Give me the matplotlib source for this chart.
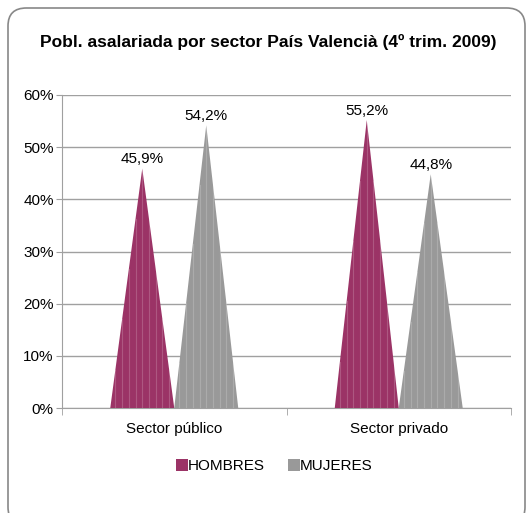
import matplotlib.pyplot as plt
import numpy as np
from matplotlib.patches import FancyBboxPatch
from matplotlib.lines import Line2D

# datos
categorias = ['Sector público', 'Sector privado']
hombres = [45.9, 55.2]
mujeres = [54.2, 44.8]
series = ['HOMBRES', 'MUJERES']
colores = ['#9b3366', '#999999']
titulo = 'Pobl. asalariada por sector País Valencià (4º trim. 2009)'

plt.rcParams['font.family'] = ['Liberation Sans', 'DejaVu Sans']

fig = plt.figure(figsize=(5.26, 5.13), dpi=100)
W, H = 526, 513

# marco redondeado
marco = FancyBboxPatch((8 / W, (H - 525) / H), 517 / W, 517 / H,
                       boxstyle='round,pad=0,rounding_size=0.035',
                       transform=fig.transFigure, facecolor='none',
                       edgecolor='#888888', linewidth=1.2, zorder=-1)
fig.patches.append(marco)

ax = fig.add_axes([62 / W, 1 - 408 / H, (511 - 62) / W, (408 - 95) / H])
ax.set_facecolor('none')

x = np.arange(len(categorias))
ancho = 0.285
for i, (vals, col) in enumerate(zip([hombres, mujeres], colores)):
    desp = (i - 0.5) * ancho
    for xi, v in zip(x, vals):
        cx = xi + desp
        ax.fill([cx - ancho / 2, cx, cx + ancho / 2], [0, v, 0],
                color=col, zorder=3, linewidth=0)
        # rayas claras verticales
        for k in np.linspace(-0.42, 0.42, 9):
            xs = cx + k * ancho
            h = v * (1 - abs(k) * 2)
            ax.plot([xs, xs], [0, h], color='white', alpha=0.18,
                    linewidth=0.8, zorder=4)
        ax.text(cx, v + 0.4, f'{v:.1f}%'.replace('.', ','), ha='center',
                va='bottom', fontsize=11, zorder=5)

ax.set_xlim(-0.5, len(categorias) - 0.5)
ax.set_ylim(0, 60)
ax.set_yticks(np.arange(0, 61, 10))
ax.set_yticklabels([f'{t}%' for t in range(0, 61, 10)], fontsize=11)
ax.yaxis.grid(True, color='#a0a0a0', linewidth=1.0, zorder=1)
ax.set_axisbelow(True)

ax.set_xticks(x)
ax.set_xticklabels(categorias, fontsize=11)
ax.tick_params(axis='x', length=0, pad=10)
ax.set_xticks([-0.5, 0.5, 1.5], minor=True)
ax.tick_params(axis='x', which='minor', length=5, color='#a0a0a0')
ax.tick_params(axis='y', length=4, color='#a0a0a0', pad=2)

for lado in ['top', 'right']:
    ax.spines[lado].set_visible(False)
for lado in ['left', 'bottom']:
    ax.spines[lado].set_color('#a0a0a0')

fig.text(268 / W, 1 - 42 / H, titulo, ha='center', va='center',
         fontsize=12.5, fontweight='bold')

manejadores = [Line2D([], [], marker='s', linestyle='none', markersize=9,
                      markerfacecolor=c, markeredgewidth=0) for c in colores]
fig.legend(manejadores, series, loc='center', bbox_to_anchor=(275 / W, 1 - 466 / H),
           ncol=2, frameon=False, fontsize=11, handlelength=0.6,
           handletextpad=0.1, columnspacing=1.6)

fig.savefig('out.png', dpi=100)
